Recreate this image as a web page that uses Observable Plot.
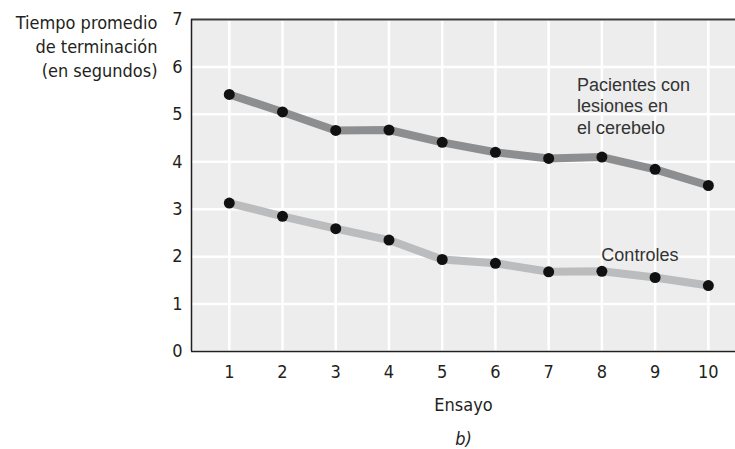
<!DOCTYPE html>
<html>
<head>
<meta charset="utf-8">
<script src="https://cdn.jsdelivr.net/npm/d3@7"></script>
<script src="https://cdn.jsdelivr.net/npm/@observablehq/plot@0.6"></script>
<style>
  html, body { margin: 0; padding: 0; background: #fff; }
  #chart svg { display: block; }
</style>
</head>
<body>
<div id="chart"></div>
<script>
const trials = [1, 2, 3, 4, 5, 6, 7, 8, 9, 10];
const patients = [5.42, 5.05, 4.66, 4.67, 4.41, 4.20, 4.07, 4.10, 3.84, 3.50];
const controls = [3.13, 2.85, 2.59, 2.35, 1.94, 1.86, 1.68, 1.69, 1.56, 1.39];
const yTicks = [0, 1, 2, 3, 4, 5, 6, 7];
const seriesNames = ["Pacientes con\nlesiones en\nel cerebelo", "Controles"];
const yTitle = "Tiempo promedio\nde terminación\n(en segundos)";
const xTitle = "Ensayo";
const panel = "b)";

const rows = [];
trials.forEach((t, i) => {
  rows.push({trial: t, value: patients[i], group: "p"});
  rows.push({trial: t, value: controls[i], group: "c"});
});

const axisFont = "'DejaVu Sans Condensed', 'Liberation Sans Narrow', Roboto, sans-serif";
const noteFont = "'Liberation Sans', Arial, sans-serif";
const ink = "#231f20";
const xDom = [0.29, 10.51];
const yDom = [0, 7];

const chart = Plot.plot({
  width: 735,
  height: 449,
  marginLeft: 191,
  marginRight: 0,
  marginTop: 19,
  marginBottom: 98,
  style: {fontFamily: axisFont, fontSize: "18px", color: ink, background: "#fff"},
  x: {domain: xDom, ticks: trials, tickSize: 0, tickPadding: 14, tickFormat: d => String(d), label: null},
  y: {domain: yDom, ticks: yTicks, tickSize: 0, tickPadding: 9, tickFormat: d => String(d), label: null},
  marks: [
    Plot.frame({fill: "#ededed", stroke: "none"}),
    Plot.gridX(trials, {stroke: "#fff", strokeOpacity: 1, strokeWidth: 2.5}),
    Plot.gridY(yTicks, {stroke: "#fff", strokeOpacity: 1, strokeWidth: 2.5}),
    Plot.ruleY([yDom[1]], {stroke: "#3a3a3a", strokeWidth: 2}),
    Plot.ruleY([yDom[0]], {stroke: ink, strokeWidth: 1.5}),
    Plot.ruleX([xDom[0]], {stroke: ink, strokeWidth: 1.5}),
    Plot.line(rows.filter(d => d.group === "p"), {x: "trial", y: "value", stroke: "#8d8e90", strokeWidth: 8}),
    Plot.line(rows.filter(d => d.group === "c"), {x: "trial", y: "value", stroke: "#bbbcbe", strokeWidth: 8}),
    Plot.dot(rows, {x: "trial", y: "value", r: 5.5, fill: "#111", stroke: "none"}),
    Plot.text([seriesNames[0]], {x: 7.53, y: 5.19, text: d => d, textAnchor: "start", lineHeight: 1.2, lineAnchor: "middle", fill: "#333", fontSize: 18, fontFamily: noteFont}),
    Plot.text([seriesNames[1]], {x: 7.99, y: 2.02, text: d => d, textAnchor: "start", fill: "#333", fontSize: 18, fontFamily: noteFont}),
    Plot.text([yTitle], {frameAnchor: "top-left", dx: -34, dy: 26, text: d => d, textAnchor: "end", lineAnchor: "middle", lineHeight: 1.33, fill: ink, fontSize: 18}),
    Plot.text([xTitle], {frameAnchor: "bottom", dy: 59, text: d => d, fill: ink, fontSize: 18}),
    Plot.text([panel], {frameAnchor: "bottom", dy: 93, text: d => d, fill: ink, fontSize: 18, fontStyle: "italic"})
  ]
});
document.getElementById("chart").appendChild(chart);
</script>
</body>
</html>
